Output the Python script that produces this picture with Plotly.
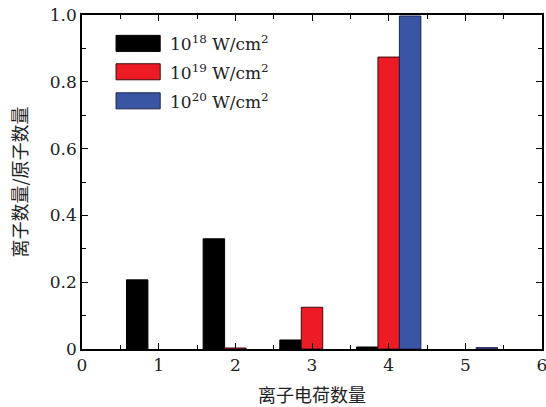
import plotly.graph_objects as go

charges = [1, 2, 3, 4, 5]
frac_1e18 = [0.207, 0.330, 0.027, 0.006, None]
frac_1e19 = [None, 0.003, 0.125, 0.874, None]
frac_1e20 = [None, None, None, 0.997, 0.004]
series_names = ["10<sup>18</sup> W/cm<sup>2</sup>", "10<sup>19</sup> W/cm<sup>2</sup>", "10<sup>20</sup> W/cm<sup>2</sup>"]
fill_colors = ["#000000", "#ED1C24", "#3A55A4"]
line_colors = ["#000000", "#3a0a0a", "#1a2550"]
x_ticks = [0, 1, 2, 3, 4, 5, 6]
y_ticks = [0, 0.2, 0.4, 0.6, 0.8, 1.0]
y_ticklabels = ["0", "0.2", "0.4", "0.6", "0.8", "1.0"]

serif = "DejaVu Serif"
cjk = "Noto Sans CJK SC"

fig = go.Figure()
for vals, name, fc, lc in zip([frac_1e18, frac_1e19, frac_1e20], series_names, fill_colors, line_colors):
    fig.add_trace(go.Bar(x=charges, y=vals, name=name, marker=dict(color=fc, line=dict(color=lc, width=1)),
                         showlegend=False))

axis_common = dict(showline=True, linecolor="black", linewidth=1.5, mirror="ticks", ticks="inside",
                   ticklen=6, tickwidth=1, tickcolor="black", showgrid=False, zeroline=False,
                   automargin=False, ticklabeloverflow="allow",
                   tickfont=dict(family=serif, size=17, color="#222"))

fig.update_layout(
    width=546, height=407,
    margin=dict(l=82, r=4, t=15, b=58),
    paper_bgcolor="white", plot_bgcolor="white",
    barmode="group", bargap=0.16, bargroupgap=0,
    xaxis=dict(range=[0, 6], tickvals=x_ticks, minor=dict(dtick=0.5, ticks="inside", ticklen=4, tickcolor="black"),
               title=dict(text="离子电荷数量", font=dict(family=cjk, size=18, color="#222"), standoff=15),
               **axis_common),
    yaxis=dict(range=[0, 1.0], tickvals=y_ticks, ticktext=y_ticklabels,
               minor=dict(dtick=0.1, ticks="inside", ticklen=4, tickcolor="black"),
               title=dict(text="离子数量/原子数量", font=dict(family=cjk, size=18, color="#222"), standoff=18),
               **axis_common),
)

# manual legend
legend_rows = [0.915, 0.83, 0.743]
for yy, name, fc, lc in zip(legend_rows, series_names, fill_colors, line_colors):
    fig.add_shape(type="rect", xref="paper", yref="paper", x0=0.074, x1=0.170, y0=yy - 0.024, y1=yy + 0.024,
                  fillcolor=fc, line=dict(color=lc, width=1))
    fig.add_annotation(xref="paper", yref="paper", x=0.188, y=yy, text=name, showarrow=False, xanchor="left",
                       yanchor="middle", font=dict(family=serif, size=17, color="#222"))

fig.write_html("out.html", config={"displayModeBar": False},
               post_script="document.body.style.margin='0';")
